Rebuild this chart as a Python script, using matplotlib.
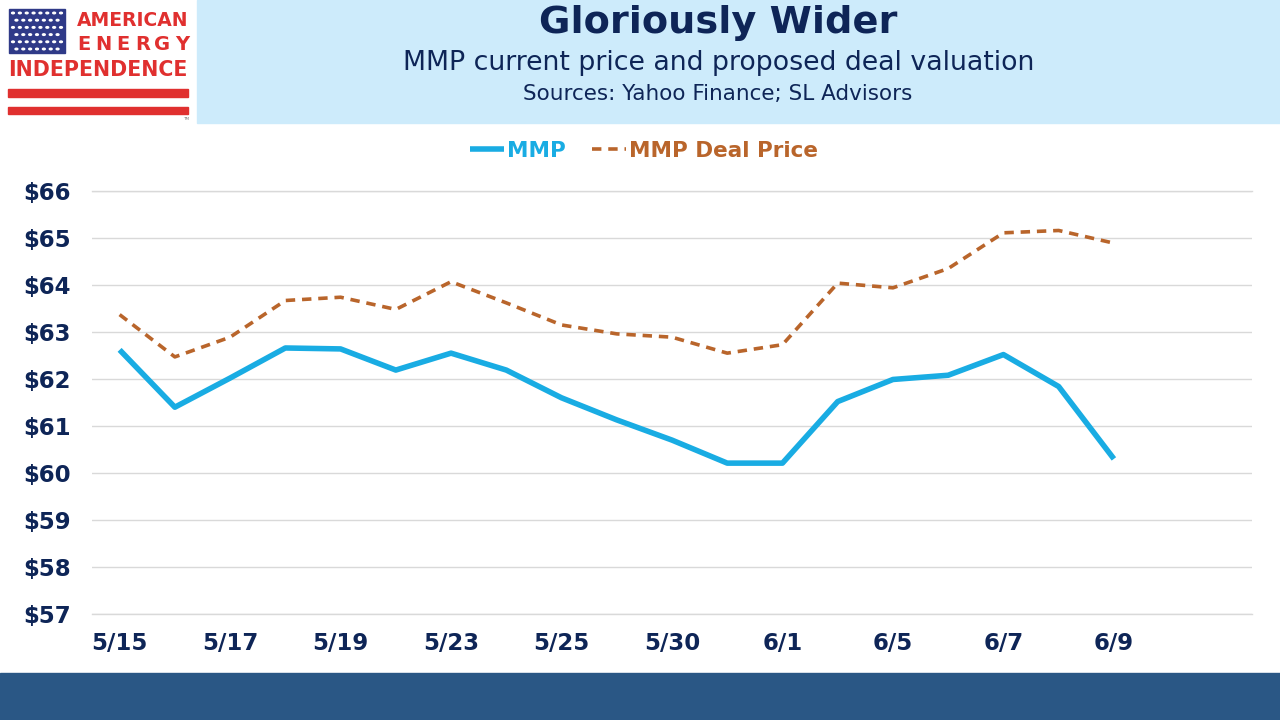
import matplotlib
matplotlib.use("Agg")
import matplotlib.pyplot as plt
from matplotlib.patches import Rectangle
import numpy as np

# ---- data ----
dates = ["5/15", "5/16", "5/17", "5/18", "5/19", "5/22", "5/23", "5/24", "5/25", "5/26",
         "5/30", "5/31", "6/1", "6/2", "6/5", "6/6", "6/7", "6/8", "6/9", "", ""]
mmp = [62.62, 61.40, 62.02, 62.66, 62.64, 62.19, 62.55, 62.19, 61.60, 61.13,
       60.70, 60.21, 60.21, 61.52, 61.99, 62.08, 62.52, 61.84, 60.30]
deal = [63.37, 62.47, 62.89, 63.67, 63.74, 63.48, 64.07, 63.62, 63.15, 62.96,
        62.89, 62.55, 62.73, 64.04, 63.94, 64.35, 65.11, 65.16, 64.89]
yticks = [57, 58, 59, 60, 61, 62, 63, 64, 65, 66]
title = "Gloriously Wider"
subtitle = "MMP current price and proposed deal valuation"
source = "Sources: Yahoo Finance; SL Advisors"

NAVY = "#0E2557"
BLUE = "#19ACE3"
ORANGE = "#B9652B"
RED = "#E0302F"
FONT = ["DejaVu Sans"]

W, H = 1280, 720
fig = plt.figure(figsize=(12.8, 7.2), dpi=100)
fig.patch.set_facecolor("white")

def fx(px):
    return px / W

def fy(py):
    return 1 - py / H

# header band
fig.patches.append(Rectangle((fx(197), fy(123)), fx(1083), 123 / H,
                             transform=fig.transFigure, color="#CDEBFB", zorder=0))
# bottom band
fig.patches.append(Rectangle((0, 0), 1, 47 / H, transform=fig.transFigure,
                             color="#2A5785", zorder=0))

# logo
fig.patches.append(Rectangle((fx(9), fy(53)), fx(56), 44 / H, transform=fig.transFigure,
                             color="#2F3A88", zorder=1))
sx = np.linspace(13, 61, 8)
sy = np.linspace(13, 49, 6)
for i, yy in enumerate(sy):
    xs = sx if i % 2 == 0 else (sx[:-1] + sx[1:]) / 2
    for xx in xs:
        fig.patches.append(plt.Circle((fx(xx), fy(yy)), 0.0011, transform=fig.transFigure,
                                      color="white", zorder=2))
fig.patches.append(Rectangle((fx(8), fy(97)), fx(180), 8 / H, transform=fig.transFigure,
                             color=RED, zorder=1))
fig.patches.append(Rectangle((fx(8), fy(114)), fx(180), 7 / H, transform=fig.transFigure,
                             color=RED, zorder=1))
fig.text(fx(188), fy(20), "AMERICAN", ha="right", va="center", color=RED,
         fontsize=13.5, fontweight="bold", family=FONT)
for i, ch in enumerate("ENERGY"):
    fig.text(fx(84 + i * 19.6), fy(45), ch, ha="center", va="center", color=RED,
             fontsize=14, fontweight="bold", family=FONT)
fig.text(fx(98), fy(70), "INDEPENDENCE", ha="center", va="center", color=RED,
         fontsize=14.8, fontweight="bold", family=FONT)
fig.text(fx(186), fy(119), "TM", ha="center", va="center", color="#777777", fontsize=3)

# titles
fig.text(fx(718), fy(23), title, ha="center", va="center", color=NAVY,
         fontsize=27.5, fontweight="bold", family=FONT)
fig.text(fx(719), fy(63), subtitle, ha="center", va="center", color=NAVY,
         fontsize=19.3, family=FONT)
fig.text(fx(718), fy(94), source, ha="center", va="center", color=NAVY,
         fontsize=15.5, family=FONT)

# axes
ax = fig.add_axes([fx(92), fy(614), fx(1160), 423 / H])
x = np.arange(len(dates))
ax.plot(x[:len(mmp)], mmp, color=BLUE, lw=4, label="MMP", solid_joinstyle="round",
        solid_capstyle="butt", zorder=3)
ax.plot(x[:len(deal)], deal, color=ORANGE, lw=2.6, ls=(0, (2.6, 1.9)), label="MMP Deal Price",
        zorder=3)
ax.set_xlim(-0.5, len(dates) - 0.5)
ax.set_ylim(57, 66)
ax.set_yticks(yticks)
ax.set_yticklabels([f"${v}" for v in yticks])
ax.set_xticks(x[::2])
ax.set_xticklabels(dates[::2])
ax.grid(axis="y", color="#D9D9D9", lw=1)
ax.set_axisbelow(True)
for k, s in ax.spines.items():
    if k in ("top", "bottom"):
        s.set_color("#D9D9D9")
        s.set_linewidth(1)
    else:
        s.set_visible(False)
ax.tick_params(length=0, colors=NAVY, labelsize=16.5)
ax.tick_params(axis="y", pad=15)
ax.tick_params(axis="x", pad=13)
for lab in ax.get_xticklabels() + ax.get_yticklabels():
    lab.set_fontweight("bold")
    lab.set_color(NAVY)
    lab.set_family(FONT)

leg = fig.legend(loc="center", bbox_to_anchor=(fx(644), fy(151)), ncol=2, frameon=False,
                 handlelength=1.6, handletextpad=0.15, columnspacing=1.2,
                 prop={"weight": "bold", "size": 15.5, "family": FONT})
for t, c in zip(leg.get_texts(), [BLUE, ORANGE]):
    t.set_color(c)

fig.savefig("out.png", dpi=100)
